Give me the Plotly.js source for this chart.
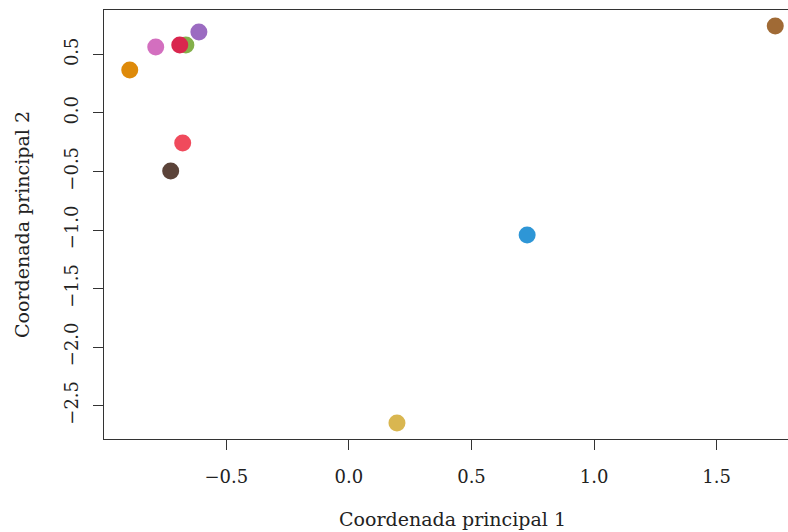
<!DOCTYPE html>
<html>
<head>
<meta charset="utf-8">
<script src="https://cdn.plot.ly/plotly-3.0.1.min.js"></script>
<style>
html, body { margin: 0; padding: 0; overflow: hidden; background: #fff; }
#chart { width: 810px; height: 532px; }
</style>
</head>
<body>
<div id="chart"></div>
<script>
// Principal coordinates
const coord1 = [-0.894, -0.788, -0.665, -0.690, -0.612, -0.678, -0.727, 0.727, 0.196, 1.739];
const coord2 = [0.368, 0.564, 0.581, 0.581, 0.692, -0.256, -0.496, -1.043, -2.650, 0.744];
const pointColors = ["#DE8A0A", "#D36FBF", "#84B04A", "#D9264E", "#9B6BC1", "#F04A5C", "#5B4339", "#2E96D6", "#D9B650", "#A06A35"];
const xTicks = [-0.5, 0.0, 0.5, 1.0, 1.5];
const yTicks = [0.5, 0.0, -0.5, -1.0, -1.5, -2.0, -2.5];
const fmt = v => (v < 0 ? "\u2212" : "") + Math.abs(v).toFixed(1);

const tickFont = { family: "DejaVu Serif", size: 18, color: "#222" };
const titleFont = { family: "DejaVu Serif", size: 19, color: "#222" };

Plotly.newPlot("chart", [{
  type: "scatter",
  mode: "markers",
  x: coord1,
  y: coord2,
  marker: { size: 17, color: pointColors, line: { width: 0 } },
  hoverinfo: "skip"
}], {
  width: 810,
  height: 532,
  margin: { l: 104, r: 9, t: 10, b: 93 },
  paper_bgcolor: "#fff",
  plot_bgcolor: "#fff",
  showlegend: false,
  font: tickFont,
  xaxis: {
    range: [-0.999, 1.844],
    tickvals: xTicks,
    ticktext: xTicks.map(fmt),
    ticks: "outside",
    ticklen: 10,
    tickwidth: 1,
    tickcolor: "#333",
    ticklabelstandoff: 11,
    showline: true,
    mirror: true,
    linecolor: "#333",
    linewidth: 1,
    showgrid: false,
    zeroline: false,
    tickfont: tickFont,
    title: { text: "Coordenada principal 1", font: titleFont, standoff: 27 }
  },
  yaxis: {
    range: [-2.786, 0.880],
    tickvals: yTicks,
    ticktext: yTicks.map(fmt),
    tickangle: -90,
    ticks: "outside",
    ticklen: 10,
    tickwidth: 1,
    tickcolor: "#333",
    ticklabelstandoff: 8,
    showline: true,
    mirror: true,
    linecolor: "#333",
    linewidth: 1,
    showgrid: false,
    zeroline: false,
    tickfont: tickFont,
    title: { text: "Coordenada principal 2", font: titleFont, standoff: 26 }
  }
}, { staticPlot: true, displayModeBar: false });
</script>
</body>
</html>
